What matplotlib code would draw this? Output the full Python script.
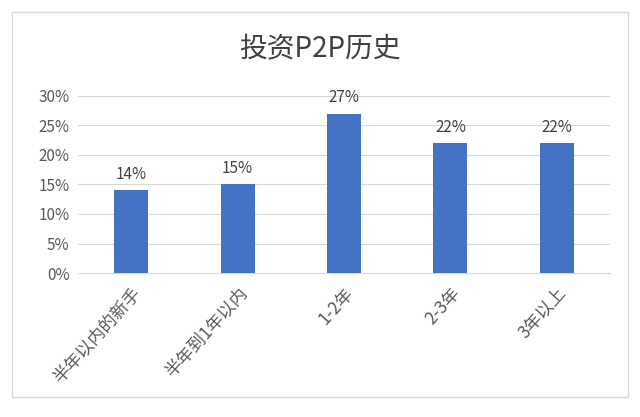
import matplotlib.pyplot as plt
from matplotlib.patches import Rectangle

plt.rcParams['font.family'] = ['Noto Sans CJK SC', 'DejaVu Sans']

categories = ["半年以内的新手", "半年到1年以内", "1-2年", "2-3年", "3年以上"]
values = [14, 15, 27, 22, 22]
yticks = [0, 5, 10, 15, 20, 25, 30]

fig = plt.figure(figsize=(6.4, 4.17), dpi=100)
fig.patches.append(Rectangle((12 / 640, 20 / 417), 616 / 640, 385 / 417, transform=fig.transFigure,
                             fill=False, edgecolor="#d9d9d9", linewidth=1))
ax = fig.add_axes([78 / 640, (417 - 273) / 417, 532 / 640, 177 / 417])
x = range(len(categories))
ax.bar(x, values, width=0.32, color="#4472C4", zorder=3)
for i, v in zip(x, values):
    ax.text(i, v + 1.3, f"{v}%", ha="center", va="bottom", fontsize=11, color="#404040")
ax.set_ylim(0, 30)
ax.set_xlim(-0.5, len(categories) - 0.5)
ax.set_yticks(yticks)
ax.set_yticklabels([f"{t}%" for t in yticks], fontsize=11, color="#595959")
ax.set_xticks(list(x))
ax.set_xticklabels(categories, rotation=48, ha="right", rotation_mode="anchor", fontsize=12.5, color="#595959")
ax.grid(axis="y", color="#d9d9d9", linewidth=0.8, zorder=0)
for s in ["top", "right", "left"]:
    ax.spines[s].set_visible(False)
ax.spines["bottom"].set_color("#d9d9d9")
ax.tick_params(axis="y", length=0, pad=6)
ax.tick_params(axis="x", length=0, pad=8)
fig.text(0.5, (417 - 48) / 417, "投资P2P历史", ha="center", va="center", fontsize=20, color="#404040")
fig.savefig("out.png", dpi=100)
